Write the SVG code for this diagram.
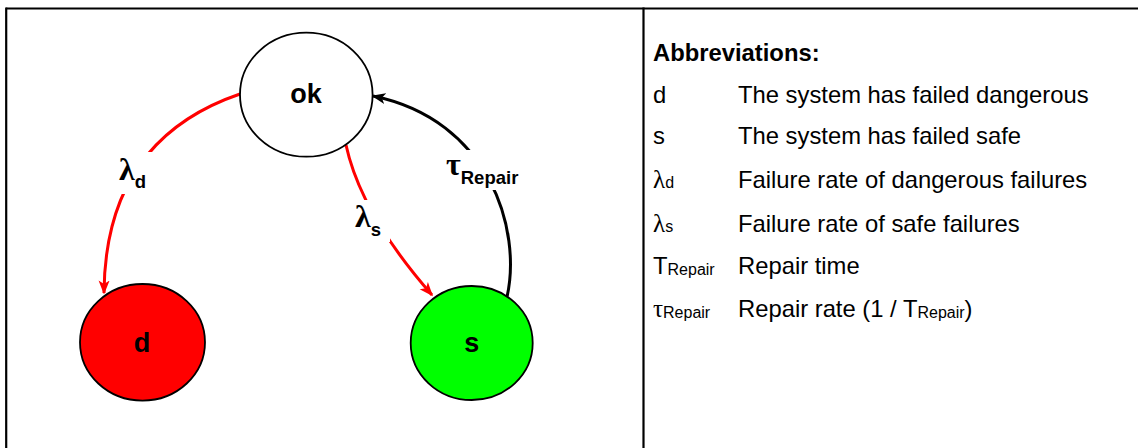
<svg xmlns="http://www.w3.org/2000/svg" width="1138" height="448" viewBox="0 0 1138 448">
  <style>
    .frame { stroke: #000; stroke-width: 2.2; fill: none; }
    .node { stroke: #000; stroke-width: 1.8; }
    .ntext { font-family: "Liberation Sans", Arial, sans-serif; font-weight: bold; fill: #000; text-anchor: middle; }
    .edge { fill: none; stroke-width: 3; }
    .red { stroke: #FF0000; }
    .blk { stroke: #000; }
    .gap { fill: #fff; stroke: none; }
    .gk { font-family: "Liberation Serif", "Times New Roman", serif; font-weight: bold; font-size: 32px; }
    .sub { font-family: "Liberation Sans", Arial, sans-serif; font-weight: bold; font-size: 18.5px; }
    .lbl { fill: #000; }
    .leg { font-family: "Liberation Sans", Arial, sans-serif; font-size: 23.8px; fill: #000; }
    .legh { font-weight: bold; }
    .lgk { font-family: "Liberation Serif", "Times New Roman", serif; font-size: 25px; }
    .lsub { font-size: 16px; }
  </style>
  <defs>
    <marker id="arrRed" markerUnits="userSpaceOnUse" viewBox="0 0 14 12" refX="12.5" refY="6" markerWidth="14" markerHeight="12" orient="auto">
      <path d="M0,0.5 L14,6 L0,11.5 L3.5,6 Z" fill="#FF0000"/>
    </marker>
    <marker id="arrBlk" markerUnits="userSpaceOnUse" viewBox="0 0 14 12" refX="12.5" refY="6" markerWidth="14" markerHeight="12" orient="auto">
      <path d="M0,0.5 L14,6 L0,11.5 L3.5,6 Z" fill="#000"/>
    </marker>
  </defs>

  <rect width="1138" height="448" fill="#fff"/>

  <g id="frame">
    <line class="frame" x1="6.2" y1="8.5" x2="1138" y2="8.5"/>
    <line class="frame" x1="6.2" y1="7.4" x2="6.2" y2="448"/>
    <line class="frame" x1="643.5" y1="7.4" x2="643.5" y2="448"/>
  </g>

  <g id="connectors">
    <path id="e-ok-d" class="edge red" d="M240,94 Q105,140 104,293" marker-end="url(#arrRed)"/>
    <path id="e-ok-s" class="edge red" d="M346,145 Q361,214 432,295" marker-end="url(#arrRed)"/>
    <path id="e-s-ok" class="edge blk" d="M507,297 C522,230 490,120 373,96" marker-end="url(#arrBlk)"/>
  </g>

  <g id="edge-labels">
    <g id="lbl-lambda-d">
      <rect class="gap" x="114" y="152" width="40" height="42"/>
      <text class="lbl" x="119" y="180"><tspan class="gk">λ</tspan><tspan class="sub" dy="8">d</tspan></text>
    </g>
    <g id="lbl-lambda-s">
      <rect class="gap" x="352" y="200" width="38" height="42"/>
      <text class="lbl" x="355" y="227"><tspan class="gk">λ</tspan><tspan class="sub" dy="9">s</tspan></text>
    </g>
    <g id="lbl-tau-repair">
      <rect class="gap" x="444" y="150" width="86" height="40"/>
      <text class="lbl" x="446" y="175"><tspan class="gk">τ</tspan><tspan class="sub" font-size="19.5" dy="9">Repair</tspan></text>
    </g>
  </g>

  <g id="node-ok">
    <ellipse class="node" cx="306.3" cy="94.7" rx="66.3" ry="62" fill="#fff"/>
    <text class="ntext" x="306" y="102.7" font-size="27">ok</text>
  </g>
  <g id="node-d">
    <ellipse class="node" cx="142.5" cy="342.3" rx="62.5" ry="58.3" fill="#FF0000"/>
    <text class="ntext" x="142" y="351.7" font-size="27">d</text>
  </g>
  <g id="node-s">
    <ellipse class="node" cx="471.7" cy="343" rx="61" ry="57" fill="#00FF00"/>
    <text class="ntext" x="471.7" y="351.7" font-size="27">s</text>
  </g>

  <g id="legend">
    <text class="leg legh" x="653" y="60.7">Abbreviations:</text>

    <text class="leg" x="653" y="102.7">d</text>
    <text class="leg" x="738" y="102.7">The system has failed dangerous</text>

    <text class="leg" x="653" y="144.3">s</text>
    <text class="leg" x="738" y="144.3">The system has failed safe</text>

    <text class="leg" x="653" y="188.3"><tspan class="lgk">λ</tspan><tspan class="lsub">d</tspan></text>
    <text class="leg" x="738" y="188.3">Failure rate of dangerous failures</text>

    <text class="leg" x="653" y="231.7"><tspan class="lgk">λ</tspan><tspan class="lsub">s</tspan></text>
    <text class="leg" x="738" y="231.7">Failure rate of safe failures</text>

    <text class="leg" x="653" y="274"><tspan>T</tspan><tspan class="lsub" dy="1">Repair</tspan></text>
    <text class="leg" x="738" y="274">Repair time</text>

    <text class="leg" x="653" y="316.7"><tspan class="lgk">τ</tspan><tspan class="lsub" dy="1">Repair</tspan></text>
    <text class="leg" x="738" y="316.7">Repair rate (1 / T<tspan class="lsub" dy="1">Repair</tspan><tspan dy="-1">)</tspan></text>
  </g>
</svg>
